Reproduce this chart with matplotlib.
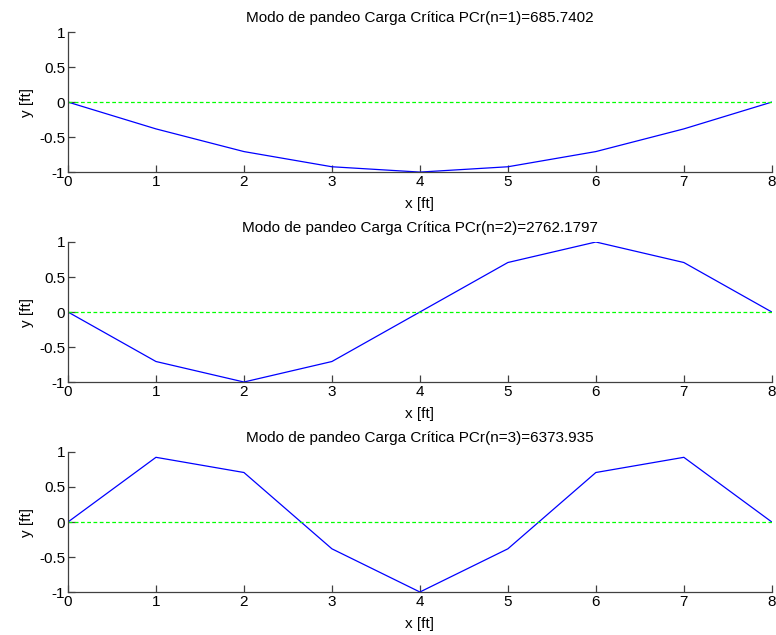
import matplotlib
matplotlib.use('Agg')
import matplotlib.pyplot as plt

plt.rcParams['font.family'] = ['Liberation Sans', 'DejaVu Sans']
plt.rcParams['font.size'] = 11

# buckling modes
x = [0, 1, 2, 3, 4, 5, 6, 7, 8]
mode1 = [0, -0.383, -0.707, -0.924, -1.0, -0.924, -0.707, -0.383, 0]
mode2 = [0, -0.707, -1.0, -0.707, 0, 0.707, 1.0, 0.707, 0]
mode3 = [0, 0.924, 0.707, -0.383, -1.0, -0.383, 0.707, 0.924, 0]
modes = [mode1, mode2, mode3]
titles = ['Modo de pandeo Carga Crítica PCr(n=1)=685.7402',
          'Modo de pandeo Carga Crítica PCr(n=2)=2762.1797',
          'Modo de pandeo Carga Crítica PCr(n=3)=6373.935']
yticks = [-1, -0.5, 0, 0.5, 1]
yticklabels = ['-1', '-0.5', '0', '0.5', '1']

fig = plt.figure(figsize=(7.76, 6.35), dpi=100)
bottoms = [0.729, 0.3984, 0.0677]

for i in range(3):
    ax = fig.add_axes([0.0876, bottoms[i], 0.907, 0.2205])
    ax.plot(x, modes[i], color='blue', linewidth=0.9)
    ax.plot([x[0], x[-1]], [0, 0], color='#00ff00', linestyle='--',
            linewidth=0.9, dashes=(3, 2))
    ax.set_xlim(0, 8)
    ax.set_ylim(-1, 1)
    ax.set_xticks(x)
    ax.set_yticks(yticks)
    ax.set_yticklabels(yticklabels)
    ax.spines['top'].set_visible(False)
    ax.spines['right'].set_visible(False)
    for s in ['left', 'bottom']:
        ax.spines[s].set_color('#404040')
        ax.spines[s].set_linewidth(0.9)
    ax.tick_params(direction='in', length=5, width=0.9, color='#404040', pad=2)
    ax.set_title(titles[i], fontsize=11, pad=7)
    ax.set_xlabel('x [ft]', labelpad=6)
    ax.set_ylabel('y [ft]', labelpad=4)

fig.savefig('out.png', dpi=100)
